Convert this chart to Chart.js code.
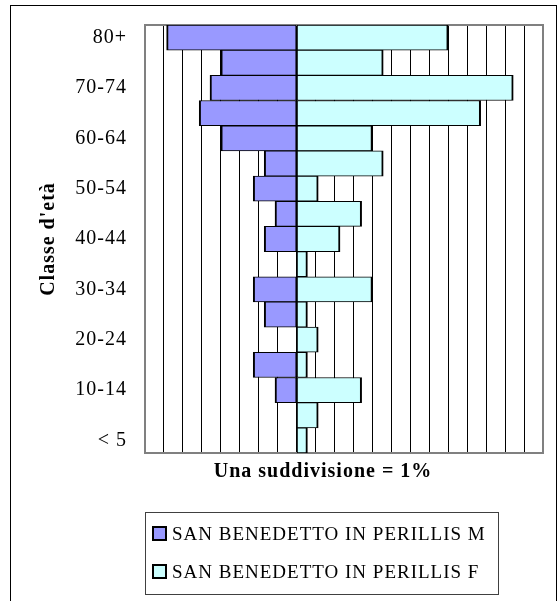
<!DOCTYPE html>
<html>
<head>
<meta charset="utf-8">
<script src="https://cdn.jsdelivr.net/npm/chart.js@4/dist/chart.umd.min.js"></script>
<style>
  html, body { margin: 0; padding: 0; background: #fff; }
  #wrap { width: 558px; height: 601px; }
</style>
</head>
<body>
<div id="wrap"><canvas id="pyramid"></canvas></div>
<script>
// age classes, top to bottom
const ageClasses = ['80+', '75-79', '70-74', '65-69', '60-64', '55-59', '50-54', '45-49',
    '40-44', '35-39', '30-34', '25-29', '20-24', '15-19', '10-14', '5-9', '< 5']

// percentage of the population (males drawn to the left)
const malePct = [6.86, 4.00, 4.57, 5.14, 4.00, 1.71, 2.29, 1.14,
    1.71, 0, 2.29, 1.71, 0, 2.29, 1.14, 0, 0]
const femalePct = [8.00, 4.57, 11.43, 9.71, 4.00, 4.57, 1.14, 3.43,
    2.29, 0.57, 4.00, 0.57, 1.14, 0.57, 3.43, 1.14, 0.57]

const seriesNames = ['SAN BENEDETTO IN PERILLIS M', 'SAN BENEDETTO IN PERILLIS F']
const xTitle = 'Una suddivisione = 1%'
const yTitle = "Classe d'età"

const serif = "'Liberation Serif', 'Times New Roman', serif"
Chart.defaults.color = '#000'

// frame, plot border, x title and boxed legend
const decorations = {
    id: 'decorations',
    beforeDraw(chart) {
        chart.ctx.letterSpacing = '1px'
    },
    beforeDatasetsDraw(chart) {
        const { ctx, chartArea: a } = chart
        ctx.save()
        ctx.strokeStyle = '#808080'
        ctx.lineWidth = 2
        ctx.strokeRect(a.left, a.top, a.right - a.left, a.bottom - a.top)
        ctx.restore()
    },
    afterDraw(chart) {
        const { ctx } = chart
        ctx.save()
        ctx.letterSpacing = '1px'
        // outer frame
        ctx.strokeStyle = '#000'
        ctx.lineWidth = 1
        ctx.strokeRect(10.5, 5.5, 546, 620)

        // x axis title
        ctx.fillStyle = '#000'
        ctx.font = 'bold 20px ' + serif
        ctx.textAlign = 'center'
        ctx.textBaseline = 'middle'
        ctx.fillText(xTitle, 323, 472)

        // legend
        ctx.strokeStyle = '#404040'
        ctx.strokeRect(145.5, 512.5, 353, 82)
        ctx.font = '19px ' + serif
        ctx.textAlign = 'left'
        ctx.textBaseline = 'alphabetic'
        chart.data.datasets.forEach((ds, i) => {
            const y = 527 + i * 38
            ctx.fillStyle = ds.backgroundColor
            ctx.fillRect(153, y, 13, 13)
            ctx.strokeStyle = '#000'
            ctx.lineWidth = 2
            ctx.strokeRect(153, y, 13, 13)
            ctx.fillStyle = '#000'
            ctx.fillText(ds.label, 172, y + 13)
        })
        ctx.restore()
    }
}

new Chart(document.getElementById('pyramid'), {
    type: 'bar',
    data: {
        labels: ageClasses,
        datasets: [{
            label: seriesNames[0],
            data: malePct.map(v => -v),
            backgroundColor: '#9999FF',
            borderColor: '#000',
            borderWidth: { top: 1, bottom: 1, left: 2, right: 1 },
            borderSkipped: false,
            barPercentage: 1,
            categoryPercentage: 1
        }, {
            label: seriesNames[1],
            data: femalePct,
            backgroundColor: '#CCFFFF',
            borderColor: '#000',
            borderWidth: { top: 1, bottom: 1, left: 1, right: 2 },
            borderSkipped: false,
            barPercentage: 1,
            categoryPercentage: 1
        }]
    },
    options: {
        indexAxis: 'y',
        responsive: true,
        maintainAspectRatio: false,
        animation: false,
        layout: { padding: { left: 0, top: 25, right: 15, bottom: 148 } },
        plugins: {
            legend: { display: false },
            tooltip: { enabled: false }
        },
        scales: {
            x: {
                stacked: true,
                min: -8,
                max: 13,
                ticks: { stepSize: 1, display: false },
                grid: { color: '#000', lineWidth: 1, drawTicks: false },
                border: { display: false },
                afterFit(scale) {
                    scale.height = 0
                    scale.paddingLeft = 0
                    scale.paddingRight = 0
                }
            },
            y: {
                stacked: true,
                grid: { display: false, drawTicks: false },
                border: { display: false },
                ticks: {
                    autoSkip: false,
                    padding: 18,
                    font: { family: serif, size: 20 },
                    callback: (v, i) => i % 2 === 0 ? ageClasses[i] : ''
                },
                title: {
                    display: true,
                    text: yTitle,
                    font: { family: serif, size: 20, weight: 'bold' },
                    padding: { top: 37, bottom: 0 }
                },
                afterFit(scale) {
                    scale.width = 145
                    scale.paddingTop = 0
                    scale.paddingBottom = 0
                }
            }
        }
    },
    plugins: [decorations]
})
</script>
</body>
</html>
